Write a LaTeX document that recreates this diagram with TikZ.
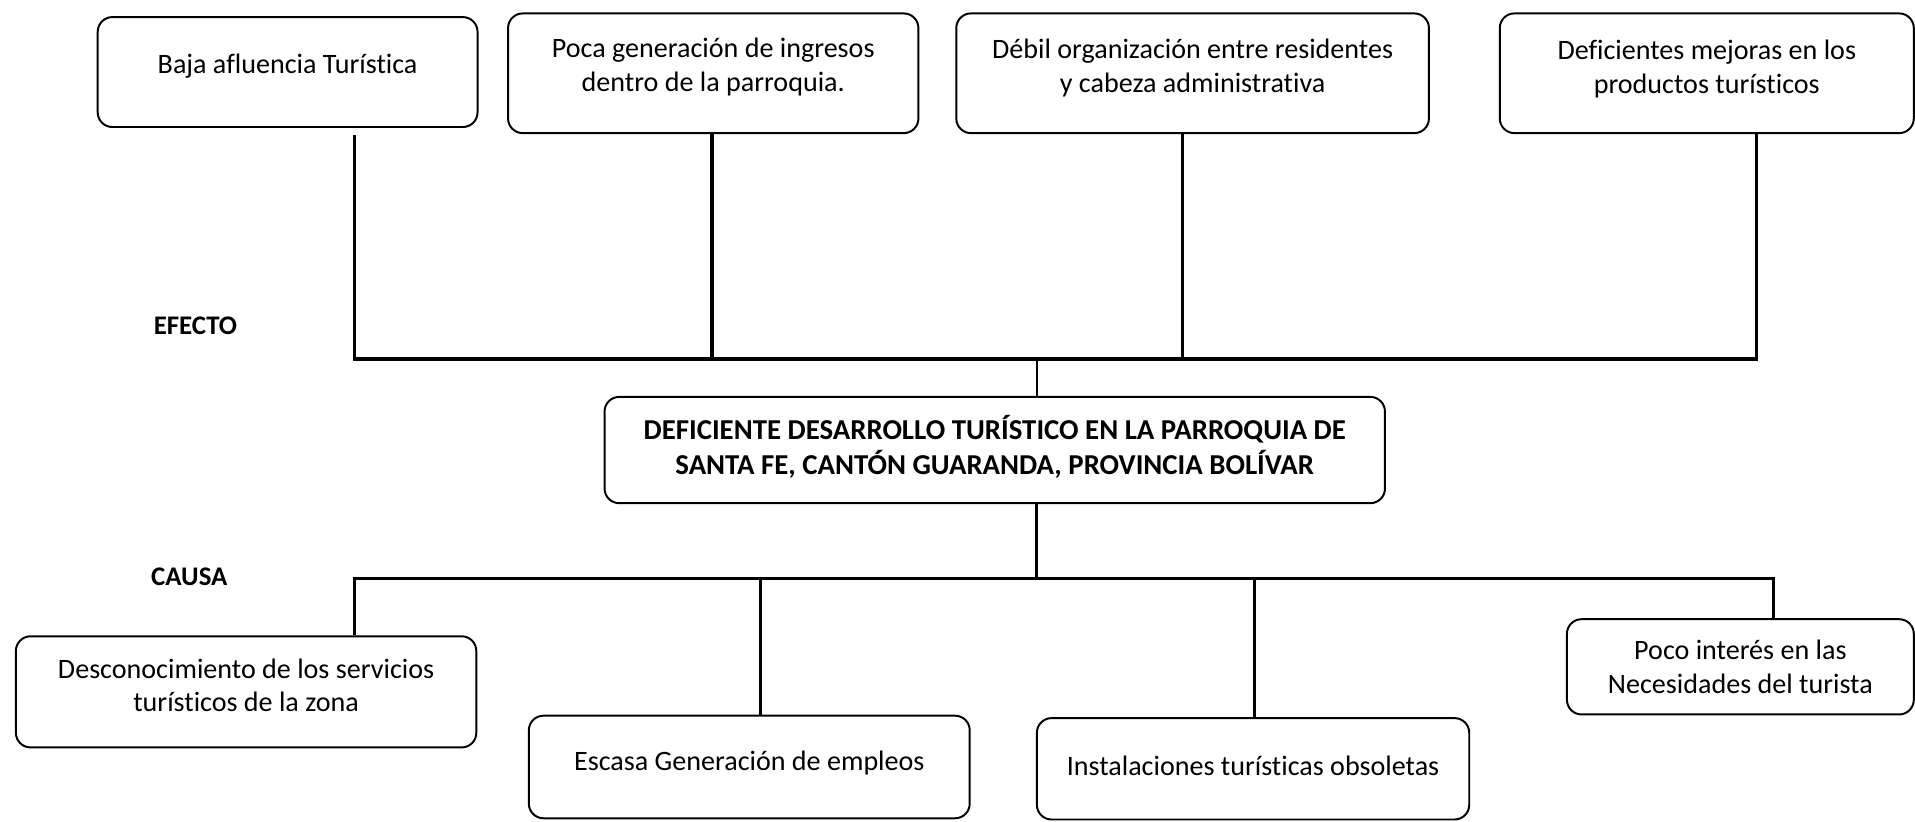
\documentclass[tikz,border=0pt]{standalone}
\usepackage{fontspec}
\setmainfont{Carlito}[Ligatures=NoCommon]

\begin{document}
\begin{tikzpicture}[x=0.5pt,y=0.5pt,yscale=-1,xscale=1,
	caja/.style={draw, rounded corners=6pt, line width=0.8pt, align=center, inner sep=0pt, font=\fontsize{11.5}{13.8}\selectfont},
	linea/.style={line width=1.3pt},
	etiqueta/.style={inner sep=0pt, font=\fontsize{11}{13}\selectfont\bfseries}]
	\useasboundingbox (0,0) rectangle (1568,673);

	% Efectos
	\node [caja, minimum width=155.5pt, minimum height=45pt, text depth=6.6pt] (efecto1) at (235.5,59) {Baja afluencia Turística};
	\node [caja, minimum width=168pt, minimum height=49pt, text depth=6.8pt] (efecto2) at (584,60) {Poca generación de ingresos\\dentro de la parroquia.};
	\node [caja, minimum width=193.5pt, minimum height=49pt, text depth=6.4pt] (efecto3) at (976.5,60) {Débil organización entre residentes\\y cabeza administrativa};
	\node [caja, minimum width=169.5pt, minimum height=49pt, text depth=5.6pt] (efecto4) at (1397.5,60) {Deficientes mejoras en los\\productos turísticos};

	% Problema central
	\node [caja, minimum width=319.5pt, minimum height=43.5pt, text depth=4.4pt, font=\fontsize{11.8}{14.5}\selectfont\bfseries] (problema) at (814.5,368.5) {DEFICIENTE DESARROLLO TURÍSTICO EN LA PARROQUIA DE\\SANTA FE, CANTÓN GUARANDA, PROVINCIA BOLÍVAR};

	% Causas
	\node [caja, minimum width=188.5pt, minimum height=45.5pt, text depth=5.4pt] (causa1) at (201.5,566.5) {Desconocimiento de los servicios\\turísticos de la zona};
	\node [caja, minimum width=180.5pt, minimum height=42pt, text depth=5.4pt] (causa2) at (613.5,628) {Escasa Generación de empleos};
	\node [caja, minimum width=177pt, minimum height=41.5pt, text depth=2.9pt] (causa3) at (1026,629.5) {Instalaciones turísticas obsoletas};
	\node [caja, minimum width=142pt, minimum height=39pt, text depth=0pt] (causa4) at (1425,546) {Poco interés en las\\Necesidades del turista};

	% Text Node
	\node [etiqueta] (efecto) at (160,267) {EFECTO};
	% Text Node
	\node [etiqueta] (causa) at (155,472) {CAUSA};

	% puntos de union
	\coordinate (e1) at (290,294);
	\coordinate (e2) at (583,294);
	\coordinate (e3) at (968,294);
	\coordinate (e4) at (1438,294);
	\coordinate (em) at (849,294);
	\coordinate (c1) at (290,474);
	\coordinate (c2) at (623,474);
	\coordinate (c3) at (1027,474);
	\coordinate (c4) at (1452,474);
	\coordinate (cm) at (849,474);

	%Straight Lines
	\draw [linea] ([yshift=3pt]e1 |- efecto1.south) -- (e1) -- (e4) -- (e4 |- efecto4.south);
	\draw [linea] (e2 |- efecto2.south) -- (e2);
	\draw [linea] (e3 |- efecto3.south) -- (e3);
	\draw [line width=0.5pt] (em) -- (em |- problema.north);
	%Straight Lines
	\draw [linea] (cm |- problema.south) -- (cm);
	\draw [linea] (c1 |- causa1.north) -- (c1) -- (c4) -- (c4 |- causa4.north);
	\draw [linea] (c2) -- (c2 |- causa2.north);
	\draw [linea] (c3) -- (c3 |- causa3.north);

\end{tikzpicture}
\end{document}
